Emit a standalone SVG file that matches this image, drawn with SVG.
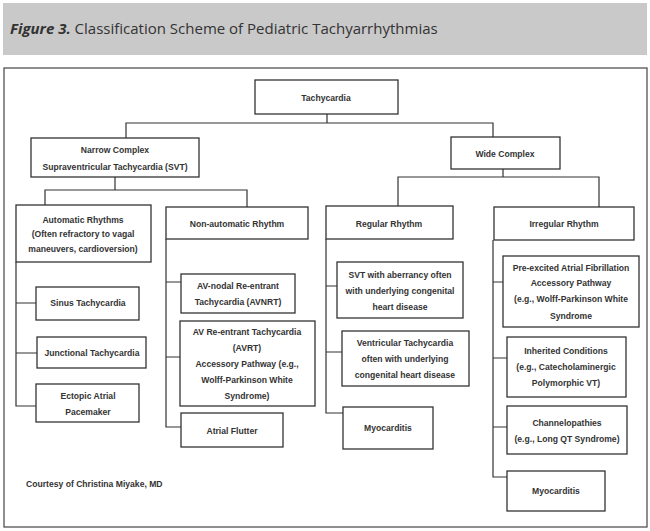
<svg xmlns="http://www.w3.org/2000/svg" width="650" height="531" viewBox="0 0 650 531">
<style>
.box{fill:#fff;stroke:#333;stroke-width:1.3}
.ln{fill:none;stroke:#333;stroke-width:1.2}
.t{font-family:"Liberation Sans",Arial,sans-serif;font-weight:bold;font-size:8.6px;fill:#333;text-anchor:middle}
.ttl{font-family:"Open Sans","Liberation Sans",sans-serif;font-size:15px;fill:#333}
</style>
<rect x="0" y="0" width="650" height="531" fill="#fff"/>
<rect x="3" y="3" width="644" height="52" fill="#c9c9c9"/>
<text class="ttl" x="10" y="34"><tspan font-weight="bold" font-style="italic">Figure 3.</tspan> Classification Scheme of Pediatric Tachyarrhythmias</text>
<rect x="4" y="68" width="643" height="459" fill="none" stroke="#444" stroke-width="1.2"/>
<g id="connectors">
<path class="ln" d="M327 114V123M126 138V123H493V137"/>
<path class="ln" d="M115 177V190M45 205V190H247V207"/>
<path class="ln" d="M503 169V177M398 206V177H599V207"/>
<path class="ln" d="M16 262V406H36M16 303H36M16 353H37"/>
<path class="ln" d="M166 239V427H181M166 282H181M166 357H180"/>
<path class="ln" d="M326 239V413H343M326 286H337M326 352H342"/>
<path class="ln" d="M493 240V477H507M493 282H503M493 358H507M493 427H507"/>
</g>
<g id="tachycardia"><rect class="box" x="255" y="80" width="143" height="34"/><text class="t" x="326" y="101">Tachycardia</text></g>
<g id="narrow"><rect class="box" x="31" y="138" width="168" height="39"/><text class="t" x="115" y="153">Narrow Complex</text><text class="t" x="115" y="170">Supraventricular Tachycardia (SVT)</text></g>
<g id="wide"><rect class="box" x="451" y="137" width="109" height="32"/><text class="t" x="505" y="157">Wide Complex</text></g>
<g id="automatic"><rect class="box" x="16" y="205" width="135" height="57"/><text class="t" x="83" y="223">Automatic Rhythms</text><text class="t" x="83" y="237">(Often refractory to vagal</text><text class="t" x="83" y="252">maneuvers, cardioversion)</text></g>
<g id="nonautomatic"><rect class="box" x="166" y="207" width="142" height="32"/><text class="t" x="237" y="227">Non-automatic Rhythm</text></g>
<g id="regular"><rect class="box" x="326" y="206" width="127" height="33"/><text class="t" x="389" y="227">Regular Rhythm</text></g>
<g id="irregular"><rect class="box" x="494" y="207" width="140" height="33"/><text class="t" x="564" y="227">Irregular Rhythm</text></g>
<g id="sinus"><rect class="box" x="36" y="287" width="103" height="33"/><text class="t" x="88" y="306">Sinus Tachycardia</text></g>
<g id="junctional"><rect class="box" x="37" y="337" width="109" height="31"/><text class="t" x="92" y="356">Junctional Tachycardia</text></g>
<g id="ectopic"><rect class="box" x="36" y="384" width="103" height="38"/><text class="t" x="88" y="399">Ectopic Atrial</text><text class="t" x="88" y="415">Pacemaker</text></g>
<g id="avnrt"><rect class="box" x="181" y="274" width="114" height="39"/><text class="t" x="238" y="289">AV-nodal Re-entrant</text><text class="t" x="238" y="305">Tachycardia (AVNRT)</text></g>
<g id="avrt"><rect class="box" x="180" y="321" width="135" height="85"/><text class="t" x="247" y="335">AV Re-entrant Tachycardia</text><text class="t" x="247" y="351">(AVRT)</text><text class="t" x="247" y="367">Accessory Pathway (e.g.,</text><text class="t" x="247" y="383">Wolff-Parkinson White</text><text class="t" x="247" y="399">Syndrome)</text></g>
<g id="flutter"><rect class="box" x="181" y="413" width="102" height="34"/><text class="t" x="232" y="434">Atrial Flutter</text></g>
<g id="svtab"><rect class="box" x="337" y="262" width="126" height="56"/><text class="t" x="400" y="278">SVT with aberrancy often</text><text class="t" x="400" y="294">with underlying congenital</text><text class="t" x="400" y="310">heart disease</text></g>
<g id="vt"><rect class="box" x="342" y="331" width="127" height="55"/><text class="t" x="405" y="346">Ventricular Tachycardia</text><text class="t" x="405" y="362">often with underlying</text><text class="t" x="405" y="378">congenital heart disease</text></g>
<g id="myo1"><rect class="box" x="343" y="407" width="90" height="42"/><text class="t" x="388" y="431">Myocarditis</text></g>
<g id="preexcited"><rect class="box" x="503" y="256" width="136" height="71"/><text class="t" x="571" y="271">Pre-excited Atrial Fibrillation</text><text class="t" x="571" y="286">Accessory Pathway</text><text class="t" x="571" y="302">(e.g., Wolff-Parkinson White</text><text class="t" x="571" y="319">Syndrome</text></g>
<g id="inherited"><rect class="box" x="507" y="337" width="119" height="60"/><text class="t" x="566" y="354">Inherited Conditions</text><text class="t" x="566" y="370">(e.g., Catecholaminergic</text><text class="t" x="566" y="386">Polymorphic VT)</text></g>
<g id="channel"><rect class="box" x="507" y="406" width="120" height="48"/><text class="t" x="567" y="426">Channelopathies</text><text class="t" x="567" y="442">(e.g., Long QT Syndrome)</text></g>
<g id="myo2"><rect class="box" x="507" y="471" width="98" height="40"/><text class="t" x="556" y="494">Myocarditis</text></g>
<text class="t" x="26" y="487" style="text-anchor:start">Courtesy of Christina Miyake, MD</text>
</svg>
